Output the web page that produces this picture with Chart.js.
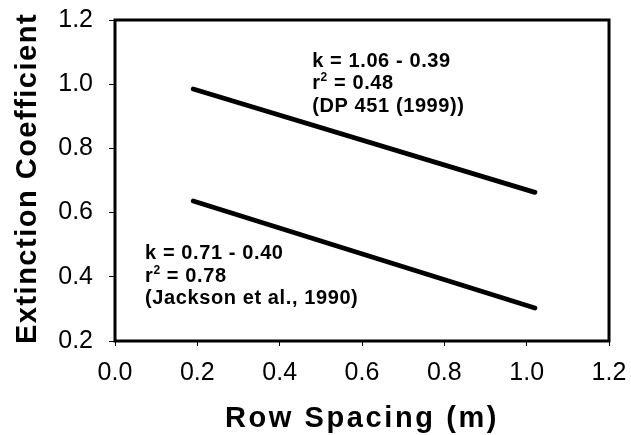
<!DOCTYPE html>
<html>
<head>
<meta charset="utf-8">
<script src="https://cdn.jsdelivr.net/npm/chart.js@4"></script>
<style>
  html, body { margin: 0; padding: 0; background: #fff; }
  #wrap { width: 631px; height: 435px; }
</style>
</head>
<body>
<div id="wrap"><canvas id="chart-id"></canvas></div>
<script>
// row spacing (m) at the ends of each fitted line
const rowSpacing = [0.19, 1.02];
// extinction coefficient
const dp451 = [0.985, 0.663];
const jackson = [0.636, 0.303];

const xTicks = [0.0, 0.2, 0.4, 0.6, 0.8, 1.0, 1.2];
const yTicks = [0.2, 0.4, 0.6, 0.8, 1.0, 1.2];

const xTitle = 'Row Spacing (m)';
const yTitle = 'Extinction Coefficient';

// equation notes, anchored in data units (left edge, first baseline)
const notes = [
  { x: 0.479, y: 1.055, lines: ['k = 1.06 - 0.39', 'r2 = 0.48', '(DP 451 (1999))'] },
  { x: 0.073, y: 0.455, lines: ['k = 0.71 - 0.40', 'r2 = 0.78', '(Jackson et al., 1990)'] }
];

const FONT = '"Liberation Sans", Arial, Helvetica, sans-serif';

const frameAndText = {
  id: 'frameAndText',
  afterDraw(chart) {
    const { ctx, chartArea: a, scales } = chart;
    ctx.save();
    ctx.strokeStyle = '#000';
    ctx.lineWidth = 3;
    ctx.strokeRect(a.left, a.top, a.right - a.left, a.bottom - a.top);

    ctx.fillStyle = '#000';
    ctx.textBaseline = 'alphabetic';
    ctx.textAlign = 'left';
    notes.forEach(n => {
      const x0 = scales.x.getPixelForValue(n.x);
      let y = scales.y.getPixelForValue(n.y);
      n.lines.forEach(line => {
        ctx.letterSpacing = '0.6px';
        ctx.font = 'bold 20px ' + FONT;
        if (line.startsWith('r2')) {
          ctx.fillText('r', x0, y);
          let x = x0 + ctx.measureText('r').width;
          ctx.font = 'bold 12px ' + FONT;
          ctx.fillText('2', x, y - 8);
          x += ctx.measureText('2').width;
          ctx.font = 'bold 20px ' + FONT;
          ctx.fillText(line.slice(2), x, y);
        } else {
          ctx.fillText(line, x0, y);
        }
        y += 22.5;
      });
    });

    // axis titles
    ctx.font = 'bold 29px ' + FONT;
    ctx.textAlign = 'center';
    ctx.letterSpacing = '2.6px';
    ctx.fillText(xTitle, (a.left + a.right) / 2, 427);
    ctx.save();
    ctx.translate(36, (a.top + a.bottom) / 2 - 2);
    ctx.rotate(-Math.PI / 2);
    ctx.letterSpacing = '1.5px';
    ctx.fillText(yTitle, 0, 0);
    ctx.restore();
    ctx.restore();
  }
};

const tickFont = { family: FONT, size: 25 };

// drop the label overhang padding so the plot box sits where layout.padding says
const noOverhang = s => {
  s.paddingTop = 0; s.paddingBottom = 0; s.paddingLeft = 0; s.paddingRight = 0;
};

const config = {
  type: 'scatter',
  data: {
    datasets: [
      {
        label: 'DP 451 (1999)',
        data: rowSpacing.map((x, i) => ({ x: x, y: dp451[i] })),
      },
      {
        label: 'Jackson et al., 1990',
        data: rowSpacing.map((x, i) => ({ x: x, y: jackson[i] })),
      }
    ].map(d => Object.assign(d, {
      showLine: true,
      borderColor: '#000',
      borderWidth: 4.8,
      borderCapStyle: 'round',
      pointRadius: 0,
      fill: false
    }))
  },
  options: {
    responsive: true,
    maintainAspectRatio: false,
    animation: false,
    layout: { padding: { top: 20, right: 22, left: 0, bottom: 0 } },
    plugins: { legend: { display: false }, tooltip: { enabled: false } },
    scales: {
      x: {
        type: 'linear',
        min: 0,
        max: 1.2,
        afterBuildTicks: s => { s.ticks = xTicks.map(v => ({ value: v })); },
        afterFit: s => { s.height = 94; noOverhang(s); },
        ticks: {
          color: '#000',
          font: tickFont,
          padding: 12,
          maxRotation: 0,
          autoSkip: false,
          callback: v => Number(v).toFixed(1)
        },
        grid: { drawOnChartArea: false, drawTicks: true, tickLength: 5, color: '#000', lineWidth: 1 },
        border: { display: false }
      },
      y: {
        type: 'linear',
        min: 0.2,
        max: 1.2,
        afterBuildTicks: s => { s.ticks = yTicks.map(v => ({ value: v })); },
        afterFit: s => { s.width = 115; noOverhang(s); },
        ticks: {
          color: '#000',
          font: tickFont,
          padding: 16,
          autoSkip: false,
          callback: v => Number(v).toFixed(1)
        },
        grid: { drawOnChartArea: false, drawTicks: true, tickLength: 6, color: '#000', lineWidth: 1 },
        border: { display: false }
      }
    }
  },
  plugins: [frameAndText]
};

new Chart(document.getElementById('chart-id'), config);
</script>
</body>
</html>
